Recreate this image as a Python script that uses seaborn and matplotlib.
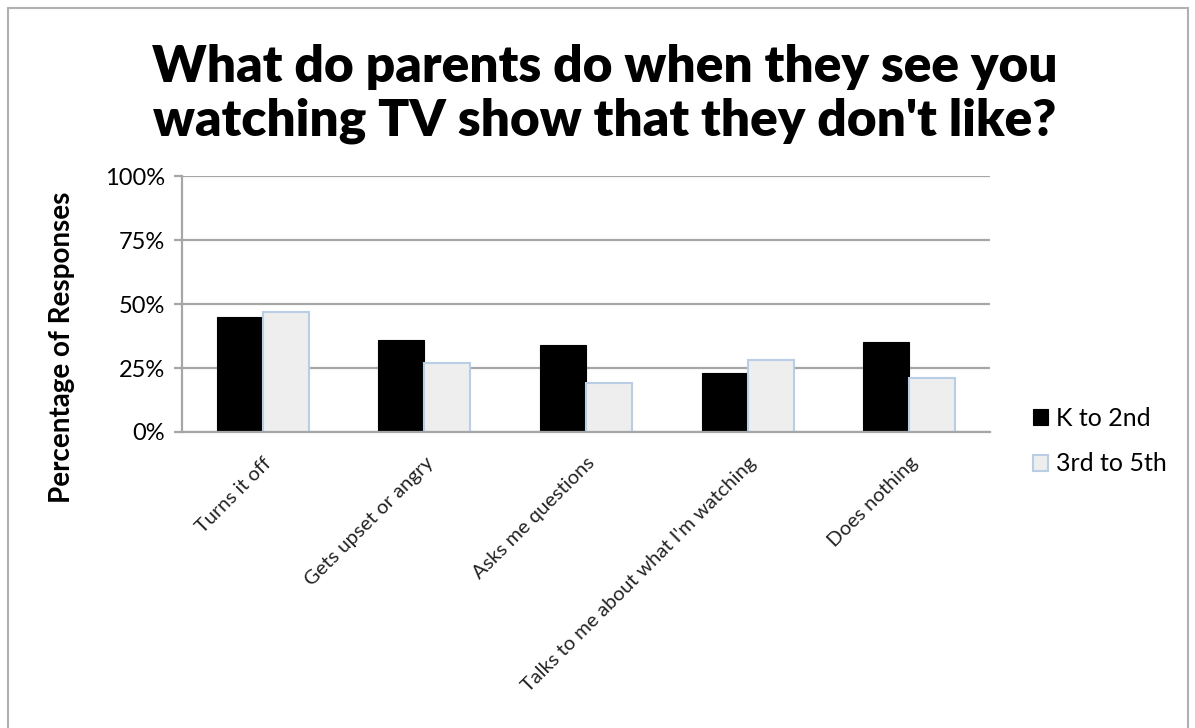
import seaborn as sns
import pandas as pd
import matplotlib.pyplot as plt
from matplotlib.patches import Rectangle
from matplotlib.ticker import FuncFormatter

# survey answers (percent)
categories = ["Turns it off", "Gets upset or angry", "Asks me questions",
              "Talks to me about what I'm watching", "Does nothing"]
k_to_2nd = [45, 36, 34, 23, 35]
third_to_5th = [47, 27, 19, 28, 21]
groups = ["K to 2nd", "3rd to 5th"]

df = pd.DataFrame({
    "Response": categories * 2,
    "Percent": k_to_2nd + third_to_5th,
    "Grade": [groups[0]] * len(categories) + [groups[1]] * len(categories),
})

sns.set_theme(style="white")
plt.rcParams['font.family'] = ['Lato', 'DejaVu Sans']
plt.rcParams['text.color'] = 'black'

fig = plt.figure(figsize=(11.95, 7.28), dpi=100)
ax = fig.add_axes([0.1523, 0.4066, 0.6762, 0.3516])

sns.barplot(data=df, x="Response", y="Percent", hue="Grade", order=categories,
            hue_order=groups, palette=["#000000", "#eeeeee"], width=0.57,
            ax=ax, legend=False)

# light blue outline on the second series
for bar in ax.containers[1]:
    bar.set_edgecolor("#b9cde5")
    bar.set_linewidth(1.5)
for bar in ax.containers[0]:
    bar.set_edgecolor("#000000")
    bar.set_linewidth(0.8)

ax.set_ylim(0, 100)
ax.set_yticks([0, 25, 50, 75, 100])
ax.yaxis.set_major_formatter(FuncFormatter(lambda v, p: f"{int(v)}%"))
ax.yaxis.grid(True, color="#a6a6a6", linewidth=1.6)
ax.set_axisbelow(True)
ax.set_xlim(-0.5, len(categories) - 0.5)

for side in ["top", "right"]:
    ax.spines[side].set_visible(False)
for side in ["left", "bottom"]:
    ax.spines[side].set_color("#a6a6a6")
    ax.spines[side].set_linewidth(1.6)

ax.tick_params(axis="y", left=True, length=6, width=1.6, color="#a6a6a6",
               labelsize=17, labelcolor="black", pad=6)
ax.tick_params(axis="x", bottom=False, labelsize=14.5, labelcolor="#222222", pad=10)
ax.set_xticks(range(len(categories)))
ax.set_xticklabels(categories, rotation=45, ha="right", rotation_mode="anchor")

ax.set_xlabel("")
ax.set_ylabel("Percentage of Responses", fontsize=20, fontweight="bold", color="black")
ax.yaxis.set_label_coords(-0.132, 0.33)

fig.text(0.506, 0.871, "What do parents do when they see you\nwatching TV show that they don't like?",
         ha="center", va="center", fontsize=37, fontweight="heavy", color="black",
         linespacing=1.2)

# legend built from the bar artists
handles = [ax.containers[0][0], ax.containers[1][0]]
fig.legend(handles, groups, loc="center left", bbox_to_anchor=(0.846, 0.394),
           frameon=False, fontsize=18, handlelength=0.6, handleheight=0.6,
           handletextpad=0.3, labelspacing=0.9)

# chart border
fig.patches.append(Rectangle((0.007, -0.01), 0.987, 0.999, transform=fig.transFigure,
                             fill=False, edgecolor="#b0b0b0", linewidth=1.5))

fig.savefig("out.png", dpi=100)
